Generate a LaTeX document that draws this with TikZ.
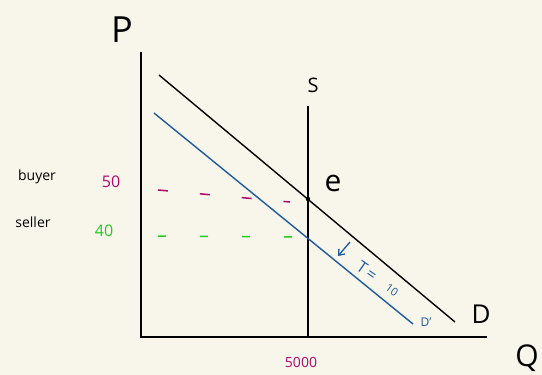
\documentclass[tikz,border=0pt]{standalone}
\usepackage{fontspec}
\setmainfont{Open Sans}
\usetikzlibrary{arrows.meta}
\definecolor{bg}{HTML}{F8F6EA}
\definecolor{mag}{HTML}{B0066E}
\definecolor{grn}{HTML}{22CC22}
\definecolor{blu}{HTML}{1E5AA0}
\tikzset{
  lbl/.style={inner sep=0pt, anchor=center},
  axis/.style={black, line width=1.4pt},
  curve/.style={line width=1.4pt},
  mdash/.style={mag, line width=1.5pt, dash pattern=on 10pt off 32pt},
  gdash/.style={grn, line width=1.5pt, dash pattern=on 8pt off 34pt},
}
\newcommand{\fsz}[1]{\fontsize{#1}{#1}\selectfont}
\begin{document}
\begin{tikzpicture}[x=1pt,y=-1pt]
\fill[bg] (0,0) rectangle (542,375);
\useasboundingbox (0,0) rectangle (542,375);
% coordinates
\coordinate (ytop) at (141,52);
\coordinate (orig) at (141,337);
\coordinate (xend) at (487,337);
\coordinate (stop) at (308,106);
\coordinate (sbot) at (308,337);
\coordinate (d1) at (159,75);
\coordinate (d2) at (455,322);
\coordinate (dp1) at (154,113);
\coordinate (dp2) at (413,324);
\coordinate (m1) at (158,190);
\coordinate (m2) at (290,202);
\coordinate (g1) at (158,236);
\coordinate (g2) at (300,237);
\coordinate (a1) at (350,242);
\coordinate (a2) at (338,256);
% axes and curves
\draw[axis] (ytop) -- (orig) -- (xend);
\draw[axis] (stop) -- (sbot);
\draw[curve, black] (d1) -- (d2);
\draw[curve, blu] (dp1) -- (dp2);
\draw[mdash] (m1) -- (m2);
\draw[gdash] (g1) -- (g2);
\fill (308,199) circle (2.2pt) coordinate (e);
\draw[blu, line width=1.3pt, -{Straight Barb[length=5pt,width=8pt]}] (a1) -- (a2);
% labels
\node[lbl, font=\fsz{36}] (P) at (122,30) {P};
\node[lbl, font=\fsz{20}] (S) at (313,85) {S};
\node[lbl, font=\fsz{30}] (E) at (333,183) {e};
\node[lbl, font=\fsz{26}] (D) at (481,314) {D};
\node[lbl, font=\fsz{30}] (Q) at (527,358) {Q};
\node[lbl, font=\fsz{12}, text=blu] (Dp) at (426,322) {D'};
\node[lbl, font=\fsz{16}, text=blu, rotate=-35] (T) at (367,271) {T\,=};
\node[lbl, font=\fsz{11}, text=blu, rotate=-35] (ten) at (392,290) {10};
\node[lbl, font=\fsz{14}, text=mag] (q) at (301,362) {5000};
\node[lbl, font=\fsz{16}, text=mag] (p50) at (111,182) {50};
\node[lbl, font=\fsz{16}, text=grn] (p40) at (104,231) {40};
\node[lbl, font=\fsz{14}] (buyer) at (37,177) {buyer};
\node[lbl, font=\fsz{14}] (seller) at (33,222) {seller};
\end{tikzpicture}
\end{document}
